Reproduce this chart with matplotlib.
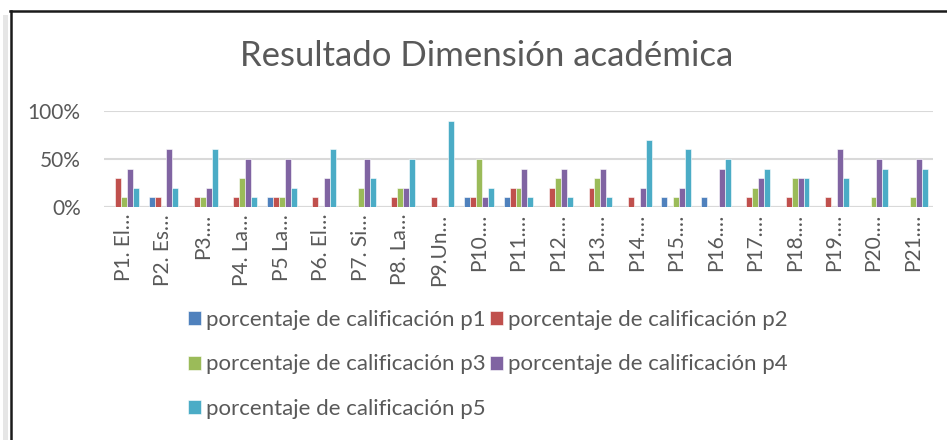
import numpy as np
import matplotlib.pyplot as plt
from matplotlib.lines import Line2D
from matplotlib.patches import Rectangle

plt.rcParams['font.family'] = ['Lato', 'DejaVu Sans']

categories = ["P1. El…", "P2. Es…", "P3.…", "P4. La…", "P5 La…", "P6. El…", "P7. Si…",
              "P8. La…", "P9.Un…", "P10.…", "P11.…", "P12.…", "P13.…", "P14.…",
              "P15.…", "P16.…", "P17.…", "P18.…", "P19.…", "P20.…", "P21.…"]

p1 = [0, 10, 0, 0, 10, 0, 0, 0, 0, 10, 10, 0, 0, 0, 10, 10, 0, 0, 0, 0, 0]
p2 = [30, 10, 10, 10, 10, 10, 0, 10, 10, 10, 20, 20, 20, 10, 0, 0, 10, 10, 10, 0, 0]
p3 = [10, 0, 10, 30, 10, 0, 20, 20, 0, 50, 20, 30, 30, 0, 10, 0, 20, 30, 0, 10, 10]
p4 = [40, 60, 20, 50, 50, 30, 50, 20, 0, 10, 40, 40, 40, 20, 20, 40, 30, 30, 60, 50, 50]
p5 = [20, 20, 60, 10, 20, 60, 30, 50, 90, 20, 10, 10, 10, 70, 60, 50, 40, 30, 30, 40, 40]

series = [p1, p2, p3, p4, p5]
labels = ["porcentaje de calificación p%d" % (i + 1) for i in range(5)]
colors = ["#4F81BD", "#C0504D", "#9BBB59", "#8064A2", "#4BACC6"]
text_col = "#595959"

W, H = 947, 440
fig = plt.figure(figsize=(W / 100, H / 100), dpi=100)

# chart frame (only top and left edges visible in the crop)
fig.add_artist(Rectangle((3 / W, 0), 5 / W, 1 - 15 / H, transform=fig.transFigure,
                         color="#E6E6E6", lw=0))
fig.add_artist(Line2D([10 / W, 1], [1 - 11.5 / H] * 2, transform=fig.transFigure,
                      color="#1a1a1a", lw=1.8))
fig.add_artist(Line2D([11 / W] * 2, [0, 1 - 11.5 / H], transform=fig.transFigure,
                      color="#1a1a1a", lw=1.8))

left, right = 104.3, 932.7
top, bottom = 111, 207
ax = fig.add_axes([left / W, 1 - bottom / H, (right - left) / W, (bottom - top) / H])

x = np.arange(len(categories))
bw = 0.15
handles = []
for k, vals in enumerate(series):
    b = ax.bar(x + (k - 2) * bw, np.array(vals) / 100.0, width=bw, color=colors[k],
               edgecolor="white", linewidth=0.4, label=labels[k], zorder=3)
    handles.append(b)

ax.set_xlim(-0.5, len(categories) - 0.5)
ax.set_ylim(0, 1)
ax.set_yticks([0, 0.5, 1.0])
ax.set_yticklabels(["0%", "50%", "100%"])
ax.set_xticks(x)
ax.set_xticklabels(categories, rotation=90)
ax.tick_params(axis="both", length=0, colors=text_col, labelsize=15)
ax.tick_params(axis="y", pad=17)
ax.tick_params(axis="x", pad=5)
ax.grid(axis="y", color="#D9D9D9", linewidth=1.5, zorder=0)
for s in ax.spines.values():
    s.set_visible(False)
ax.axhline(0, color="#D9D9D9", linewidth=1.5, zorder=2)

fig.text(487 / W, 1 - 56 / H, "Resultado Dimensión académica", ha="center",
         va="center", fontsize=25, color=text_col)

order = [0, 2, 4, 1, 3]
fig.legend([handles[i] for i in order], [labels[i] for i in order], ncol=2,
           loc="upper left", bbox_to_anchor=(188 / W, 1 - 310 / H), frameon=False,
           fontsize=16, labelcolor=text_col, handlelength=0.6, handleheight=0.6,
           handletextpad=0.2, columnspacing=0.2, labelspacing=1.1,
           borderpad=0, borderaxespad=0)

fig.savefig("out.png", dpi=100)
